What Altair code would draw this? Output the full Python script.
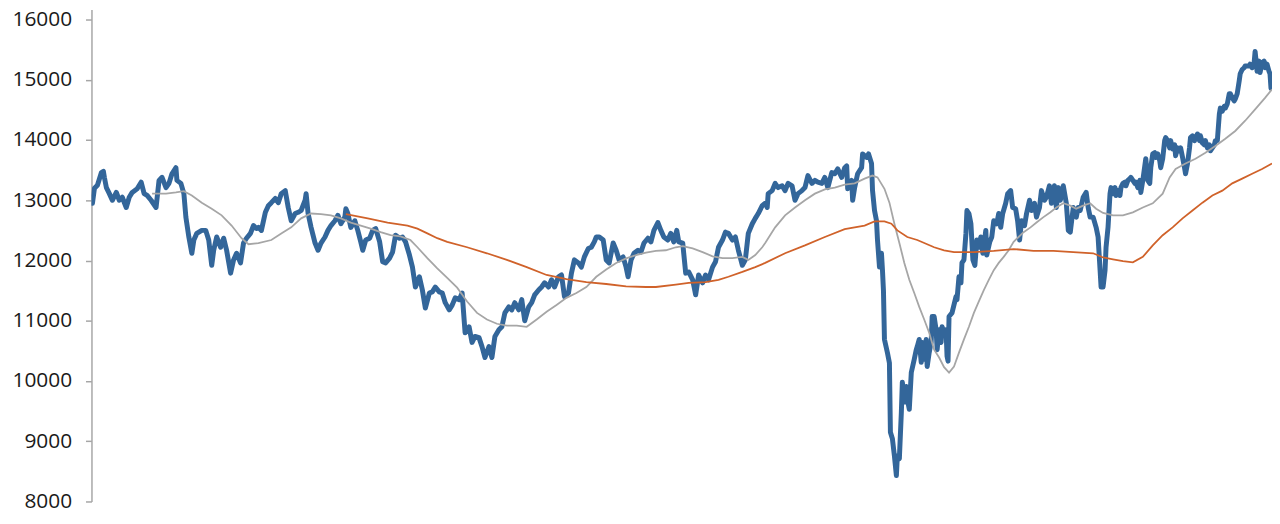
import altair as alt
import pandas as pd

# Index (blue, thick)
price_day = [1,3,6,10,12,13,15,18,21,25,28,31,35,38,41,46,50,53,56,60,65,68,71,75,78,81,85,86,90,93,95,98,101,103,106,111,115,118,121,123,126,130,133,136,140,143,146,150,153,156,160,163,
166,168,171,175,178,181,185,188,191,195,198,201,205,208,211,215,216,218,221,225,228,231,235,238,241,245,248,251,255,256,
258,261,265,268,271,273,276,280,283,286,290,293,296,300,303,306,310,313,316,320,323,326,330,333,336,340,343,346,350,353,356,360,363,366,370,373,376,380,383,386,390,393,396,400,403,406,410,413,416,420,423,426,430,433,436,440,443,446,450,453,456,460,463,466,470,473,476,480,483,486,490,493,496,500,503,506,
508,511,515,518,521,525,528,531,535,538,540,543,546,550,553,556,560,563,566,570,573,576,580,583,586,589,591,595,596,598,601,605,608,611,615,618,621,625,628,631,635,638,641,645,648,651,655,658,661,665,668,671,675,
678,680,681,685,688,691,695,698,701,705,708,711,715,718,721,725,728,731,735,738,741,745,748,751,755,758,760,761,765,766,768,771,775,776,780,782,785,786,788,790,791,793,795,796,797,798,801,803,804,806,808,810,811,813,815,816,818,820,821,823,825,828,830,831,833,835,836,838,840,841,843,845,846,
848,850,851,853,855,856,858,860,861,862,863,866,870,871,873,875,876,878,880,881,883,885,887,889,891,893,895,897,900,901,904,906,908,911,913,915,917,920,922,925,927,930,932,934,936,939,941,944,946,949,951,954,956,959,961,964,966,969,971,973,975,978,981,983,985,988,991,993,995,998,1001,1003,1005,1008,1011,1013,1015,1016,
1018,1020,1021,1023,1025,1026,1028,1030,1031,1033,1035,1036,1038,1040,1041,1043,1045,1046,1048,1050,1051,1053,1055,1056,1058,1060,1061,1063,1065,1066,1068,1070,1071,1073,1075,1076,1078,1080,1081,1083,1085,1086,1088,1090,1091,1093,1095,1096,1098,1100,1101,1103,1105,1106,1108,1110,1111,1113,1115,1116,1118,1120,1121,1123,1125,1126,1128,1130,1131,1133,1135,1136,1138,1140,1141,1143,1145,1146,1148,1150,1151,1153,1155,1156,1158,1160,1161,1163,1165,1166,1168,1170,1171,1172,1173,1175,1176,1178,1180,1181,1183,1185,1186,1187]
price_val = [12950,13200,13250,13460,13480,13380,13210,13110,13000,13130,13000,13050,12880,13050,13130,13190,13300,13110,13080,13000,12880,13330,13380,13210,13280,13440,13540,13330,13280,13110,12720,12390,12120,12340,12450,12500,12500,12340,11920,12170,12390,12220,12370,12170,11790,12010,12120,11960,12290,12370,12450,12580,
12530,12550,12500,12800,12910,12960,13030,12960,13110,13160,12880,12660,12780,12800,12830,13000,13110,12780,12550,12290,12170,12290,12390,12500,12580,12660,12750,12610,12720,12860,
12780,12550,12660,12500,12310,12170,12340,12370,12500,12530,12310,11980,11960,12040,12140,12420,12370,12390,12310,12090,11890,11560,11730,11510,11210,11460,11480,11560,11480,11460,11300,11180,11260,11380,11350,11460,10800,10900,10640,10740,10720,10570,10390,10570,10390,10740,10850,10900,11130,11230,11180,11300,11180,11350,11000,11230,11300,11430,11510,11560,11630,11560,11680,11560,11730,11760,11400,11460,11790,12010,11960,11890,12060,12200,12220,12310,
12390,12390,12340,12010,11960,12290,12170,12010,12060,11890,11730,12010,12120,12170,12140,12290,12370,12310,12500,12630,12500,12390,12340,12450,12310,12500,12310,12290,12120,11790,11810,11680,11430,11760,11630,11760,11680,11890,11980,12220,12340,12470,12450,12340,12390,12170,11920,12010,12450,12610,12700,12780,12910,
12950,12880,13110,13160,13280,13210,13240,13160,13280,13240,13000,13110,13160,13210,13410,13280,13330,13300,13280,13380,13210,13460,13440,13520,13380,13540,13570,13190,13330,13000,13210,13440,13540,13770,13710,13770,13610,13160,12830,12660,12340,11890,12120,11840,11500,10690,10470,10300,9150,9040,8760,8430,8760,8710,9480,9980,9650,9910,9700,9530,10140,10360,10520,10570,10690,10310,10640,10360,10690,10240,10470,10640,11070,
11070,10850,10520,10850,10640,10900,10800,10850,10410,10330,11070,11130,11400,11350,11730,11630,11960,12010,12450,12830,12780,12610,12010,11920,12340,12220,12390,12120,12500,12090,12310,12390,12660,12610,12780,12550,12780,12950,13110,13160,12880,12860,12660,12340,12660,12580,12780,13000,12830,12950,12720,12880,13160,13000,13050,13240,12950,13240,12880,13210,13000,13240,12950,12500,12470,12880,12720,12880,12830,13050,13130,12880,12720,12720,12550,12390,11840,11560,
11560,11840,12220,12550,13110,13210,13110,13210,13080,13160,13080,13210,13280,13300,13240,13330,13360,13380,13330,13280,13300,13210,13330,13130,13330,13570,13690,13330,13280,13540,13770,13790,13710,13770,13660,13540,13690,13990,14040,13990,13870,13990,13850,13920,13740,13870,13820,13870,13710,13540,13440,13610,13870,14040,14070,13990,14040,14100,13990,14070,13950,13920,13990,13870,13920,13820,13870,13920,13990,13990,14430,14530,14480,14560,14530,14600,14770,14770,14700,14650,14680,14770,14980,15100,15170,15200,15230,15230,15230,15260,15200,15280,15470,15310,15140,15310,15120,15280,15310,15200,15260,15140,15100,14860]

# Short moving average (grey)
ma_short_day = [61,75,85,93,101,111,121,131,141,151,158,168,181,191,201,211,221,231,241,251,261,271,281,291,301,311,321,328,338,348,358,368,378,388,398,408,418,428,438,448,458,468,478,488,498,508,518,528,538,548,558,568,578,588,595,605,615,625,635,645,655,661,668,675,678,688,698,708,718,728,738,748,758,768,778,786,791,798,803,808,813,818,823,828,833,838,843,848,853,858,863,868,873,878,883,888,893,898,903,908,913,918,923,928,933,938,945,951,958,965,971,978,985,991,998,1005,1011,1018,1028,1038,1048,1058,1068,1078,1085,1091,1101,1111,1121,1131,1141,1151,1161,1171,1181,1188]
ma_short_val = [13110,13110,13130,13150,13080,12960,12860,12750,12580,12370,12270,12290,12340,12450,12550,12700,12780,12770,12750,12700,12630,12580,12530,12470,12420,12400,12340,12220,12040,11870,11710,11550,11320,11130,11020,10950,10920,10920,10900,11020,11150,11260,11380,11460,11560,11730,11850,11960,12035,12090,12130,12160,12170,12220,12240,12200,12140,12070,12040,12040,12060,12010,12090,12220,12290,12550,12750,12880,13000,13110,13180,13210,13260,13280,13360,13410,13380,13190,12960,12610,12290,11960,11680,11460,11230,11020,10800,10520,10390,10230,10140,10240,10470,10690,10900,11130,11320,11510,11680,11840,11960,12060,12170,12310,12390,12470,12550,12630,12720,12800,12880,12950,12910,12860,12910,12950,12860,12790,12750,12750,12800,12880,12950,13110,13380,13520,13610,13690,13790,13900,14020,14150,14320,14510,14700,14840]

# Long moving average (orange)
ma_long_day = [256,278,298,318,328,338,348,358,378,398,418,438,458,478,498,518,538,558,568,588,601,618,631,641,655,668,678,698,718,738,758,778,788,798,805,811,821,831,841,848,858,868,888,908,928,948,968,988,1008,1018,1028,1038,1048,1058,1068,1078,1088,1098,1108,1118,1128,1138,1148,1158,1168,1178,1188]
ma_long_val = [12770,12700,12630,12580,12530,12450,12370,12310,12220,12120,12010,11890,11760,11690,11640,11610,11570,11560,11560,11600,11630,11640,11680,11730,11810,11890,11960,12120,12250,12390,12520,12580,12650,12650,12610,12500,12390,12340,12270,12220,12170,12140,12140,12160,12190,12160,12160,12140,12120,12050,12020,11990,11970,12060,12250,12420,12550,12700,12830,12960,13080,13160,13280,13360,13440,13520,13610]

y_ticks = [8000, 9000, 10000, 11000, 12000, 13000, 14000, 15000, 16000]

price_df = pd.DataFrame({"day": price_day, "value": price_val})
short_df = pd.DataFrame({"day": ma_short_day, "value": ma_short_val})
long_df = pd.DataFrame({"day": ma_long_day, "value": ma_long_val})

x_enc = alt.X("day:Q", scale=alt.Scale(domain=[0, 1188], nice=False, zero=False), axis=None)
y_scale = alt.Scale(domain=[8000, 16165], nice=False, zero=False)
y_axis = alt.Axis(
    values=y_ticks, format="d", title=None, grid=False,
    tickSize=6, tickColor="#a6a6a6", tickWidth=1.5,
    domainColor="#a6a6a6", domainWidth=1.5,
    labelFont="Open Sans", labelFontSize=21, labelColor="#1a1a1a",
    labelPadding=14,
)

blue = alt.Chart(price_df).mark_line(
    color="#33669a", strokeWidth=5, strokeJoin="round", strokeCap="round", clip=True
).encode(x=x_enc, y=alt.Y("value:Q", scale=y_scale, axis=y_axis))

grey = alt.Chart(short_df).mark_line(
    color="#a6a6a6", strokeWidth=1.8, clip=True
).encode(x=x_enc, y=alt.Y("value:Q", scale=y_scale, axis=y_axis))

orange = alt.Chart(long_df).mark_line(
    color="#d0622a", strokeWidth=1.8, clip=True
).encode(x=x_enc, y=alt.Y("value:Q", scale=y_scale, axis=y_axis))

chart = alt.layer(blue, grey, orange).properties(
    width=1188, height=495,
    autosize=alt.AutoSizeParams(type="none"),
    padding={"left": 84, "top": 0, "right": 0, "bottom": 10},
).configure_view(stroke=None)

chart.save("out.html", embed_options={"renderer": "svg", "actions": False})
